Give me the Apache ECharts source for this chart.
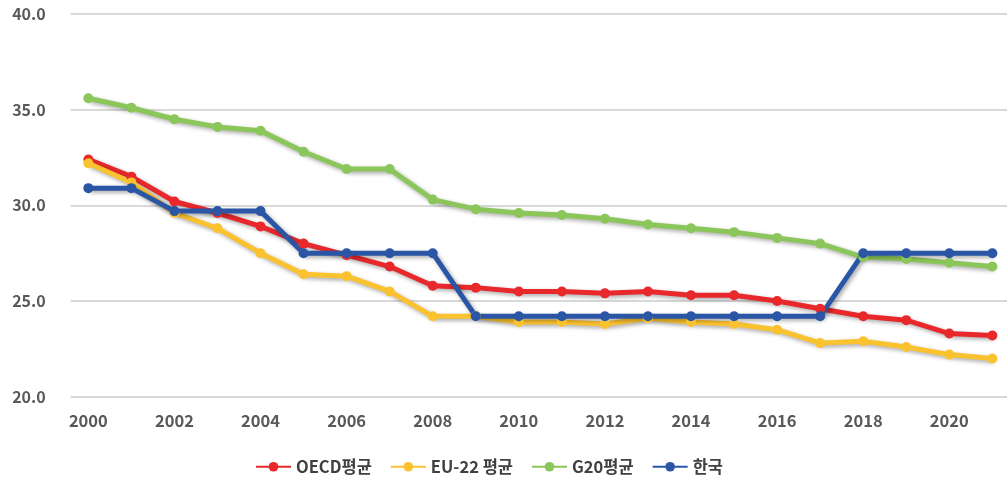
<!DOCTYPE html>
<html>
<head>
<meta charset="utf-8">
<script src="https://cdn.jsdelivr.net/npm/echarts@6/dist/echarts.min.js"></script>
<style>
html,body{margin:0;padding:0;background:#fff;}
#chart{width:1007px;height:482px;}
</style>
</head>
<body>
<div id="chart"></div>
<script>
const years = [2000,2001,2002,2003,2004,2005,2006,2007,2008,2009,2010,2011,2012,2013,2014,2015,2016,2017,2018,2019,2020,2021];
const xTickLabels = [2000,2002,2004,2006,2008,2010,2012,2014,2016,2018,2020];
const seriesNames = ['OECD평균','EU-22 평균','G20평균','한국'];
const oecd  = [32.4,31.5,30.2,29.6,28.9,28.0,27.4,26.8,25.8,25.7,25.5,25.5,25.4,25.5,25.3,25.3,25.0,24.6,24.2,24.0,23.3,23.2];
const eu22  = [32.2,31.2,29.6,28.8,27.5,26.4,26.3,25.5,24.2,24.2,23.9,23.9,23.8,24.1,23.9,23.8,23.5,22.8,22.9,22.6,22.2,22.0];
const g20   = [35.6,35.1,34.5,34.1,33.9,32.8,31.9,31.9,30.3,29.8,29.6,29.5,29.3,29.0,28.8,28.6,28.3,28.0,27.3,27.2,27.0,26.8];
const korea = [30.9,30.9,29.7,29.7,29.7,27.5,27.5,27.5,27.5,24.2,24.2,24.2,24.2,24.2,24.2,24.2,24.2,24.2,27.5,27.5,27.5,27.5];
const colors = ['#E8282B','#FBC22F','#8BC65B','#2A56A5'];

const chart = echarts.init(document.getElementById('chart'));
const FONT = '"Noto Sans CJK KR", "Noto Sans", sans-serif';
function mk(name, vals, color){
  return {
    name: name, type: 'line',
    data: years.map((y,i)=>[y, vals[i]]),
    symbol: 'circle', symbolSize: 10,
    itemStyle: {color: color},
    lineStyle: {width: 5, color: color, shadowColor: 'rgba(0,0,0,0.35)', shadowBlur: 4, shadowOffsetX: 2, shadowOffsetY: 2},
    animation: false
  };
}
chart.setOption({
  animation: false,
  grid: {left: 70.7, right: 0, top: 14, bottom: 85.3, containLabel: false},
  xAxis: {
    type: 'value', min: 1999.59, max: 2021.34,
    splitLine: {show: false}, axisLine: {show: false}, axisTick: {show: false},
    axisLabel: {customValues: xTickLabels, formatter: v => String(v), color: '#595959', fontSize: 16.5, fontWeight: 'bold', fontFamily: FONT, margin: 16}
  },
  yAxis: {
    type: 'value', min: 20, max: 40, interval: 5,
    axisLine: {show: false}, axisTick: {show: false},
    splitLine: {lineStyle: {color: '#D9D9D9', width: 2}},
    axisLabel: {formatter: v => v.toFixed(1), color: '#595959', fontSize: 16, fontWeight: 'bold', fontFamily: FONT, margin: 25}
  },
  legend: {
    bottom: 2, left: 250, itemWidth: 35, itemHeight: 12, itemGap: 18,
    textStyle: {color: '#404040', fontSize: 16.5, fontWeight: 'bold', fontFamily: FONT},
    data: seriesNames
  },
  series: [mk(seriesNames[0], oecd, colors[0]), mk(seriesNames[1], eu22, colors[1]), mk(seriesNames[2], g20, colors[2]), mk(seriesNames[3], korea, colors[3])]
});
</script>
</body>
</html>
